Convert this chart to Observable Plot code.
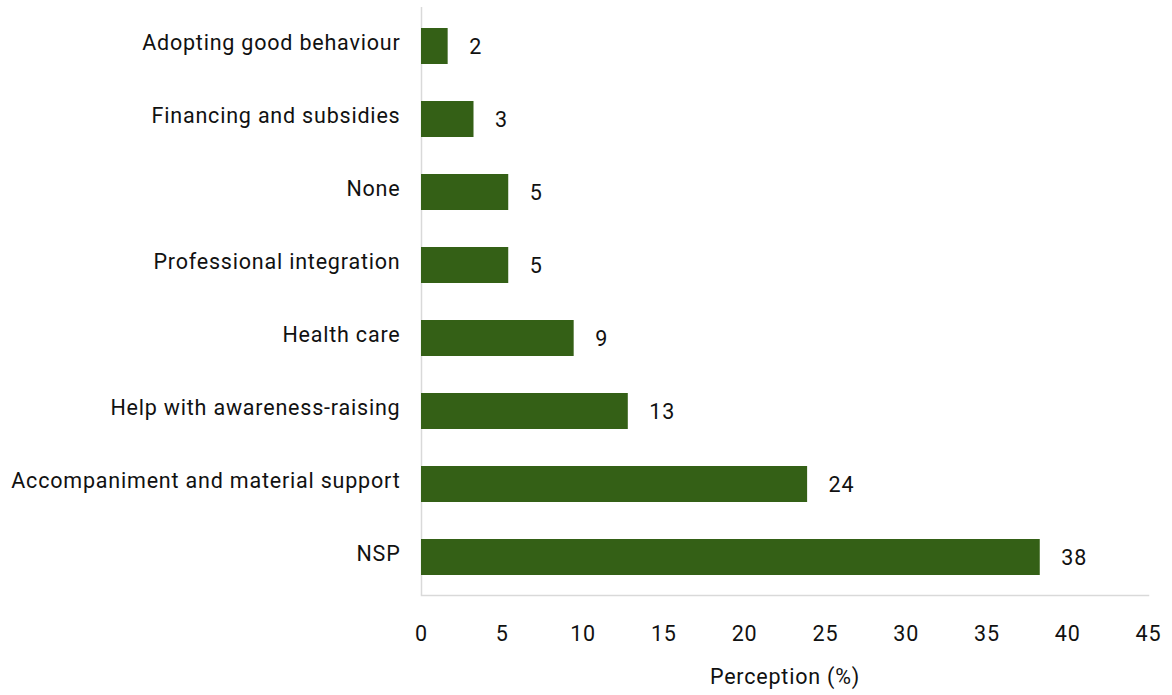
<!DOCTYPE html>
<html>
<head>
<meta charset="utf-8">
<script src="https://cdn.jsdelivr.net/npm/d3@7"></script>
<script src="https://cdn.jsdelivr.net/npm/@observablehq/plot@0.6"></script>
<style>
  html, body { margin: 0; padding: 0; background: #fff; }
  #chart svg { display: block; }
</style>
</head>
<body>
<div id="chart"></div>
<script>
const categories = [
  "Adopting good behaviour",
  "Financing and subsidies",
  "None",
  "Professional integration",
  "Health care",
  "Help with awareness-raising",
  "Accompaniment and material support",
  "NSP"
];
const values = [1.65, 3.25, 5.4, 5.4, 9.45, 12.8, 23.9, 38.3];
const valueLabels = ["2", "3", "5", "5", "9", "13", "24", "38"];
const xTicks = [0, 5, 10, 15, 20, 25, 30, 35, 40, 45];
const xTitle = "Perception (%)";

const data = categories.map((c, i) => ({category: c, value: values[i], label: valueLabels[i]}));

const chart = Plot.plot({
  width: 1172,
  height: 695,
  marginTop: 7,
  marginBottom: 100,
  marginLeft: 421,
  marginRight: 24,
  style: {fontFamily: "Roboto, sans-serif", fontSize: "21.5px", letterSpacing: "0.8px", color: "#111", background: "#fff"},
  x: {domain: [0, 45], ticks: xTicks, label: null},
  y: {domain: categories, paddingInner: 0.51, paddingOuter: 0.255, label: null},
  marks: [
    Plot.frame({anchor: "bottom", stroke: "#d9d9d9", strokeWidth: 1.5}),
    Plot.ruleX([0], {stroke: "#d9d9d9", strokeWidth: 1.5}),
    Plot.barX(data, {x: "value", y: "category", fill: "#346016"}),
    Plot.axisX({ticks: xTicks, tickSize: 0, tickPadding: 30, label: null}),
    Plot.axisY({tickSize: 0, tickPadding: 21, dy: -3, label: null}),
    Plot.text(data, {x: "value", y: "category", text: "label", textAnchor: "start", dx: 21, dy: 1, fill: "#111", fontSize: 21.5}),
    Plot.text([xTitle], {frameAnchor: "bottom", dy: 88, fill: "#111", fontSize: 21.5})
  ]
});
document.getElementById("chart").appendChild(chart);
</script>
</body>
</html>
